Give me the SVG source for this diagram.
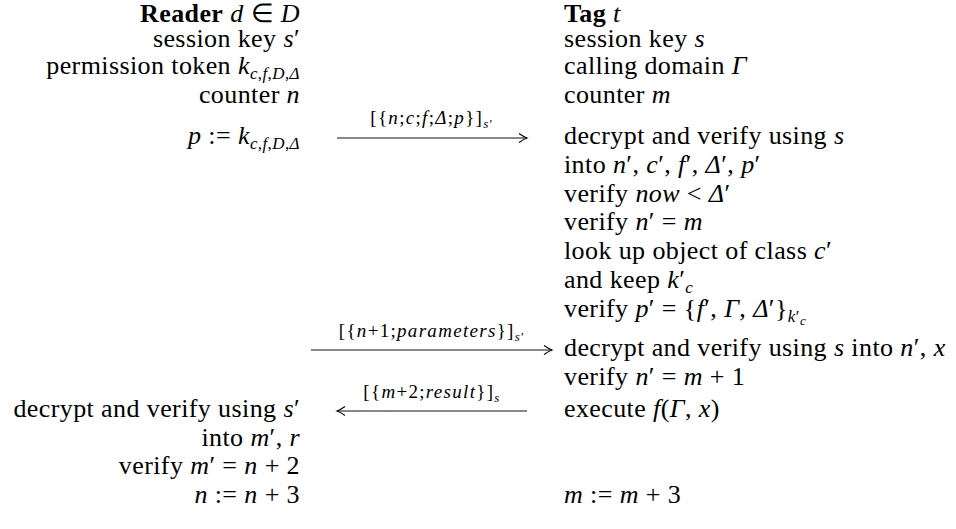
<svg xmlns="http://www.w3.org/2000/svg" width="956" height="529" viewBox="0 0 956 529">
<style>
.t { font-family: "Liberation Serif", "Times New Roman", serif; font-size: 26px; fill: #000; letter-spacing: 0.4px; }
.r { text-anchor: end; }
.i { font-style: italic; }
.b { font-weight: bold; }
.s { font-size: 17px; }
.ss { font-size: 13px; }
.lbl { font-family: "Liberation Serif", "Times New Roman", serif; font-size: 19px; fill: #000; text-anchor: middle; letter-spacing: 1.3px; }
.arr { stroke: #111; stroke-width: 1.1; fill: none; marker-end: url(#ah); }
</style>
<defs>
<marker id="ah" markerWidth="12" markerHeight="12" refX="0" refY="0" viewBox="-10 -6 12 12" orient="auto" markerUnits="userSpaceOnUse">
<path d="M-8,-4.5 Q-3,-1 0,0 Q-3,1 -8,4.5" fill="none" stroke="#000" stroke-width="1.1"/>
</marker>
</defs>
<rect width="956" height="529" fill="#fff"/>

<g id="reader">
<text class="t r" x="300" y="22"><tspan class="b">Reader</tspan> <tspan class="i">d</tspan> ∈ <tspan class="i">D</tspan></text>
<text class="t r" x="300" y="47">session key <tspan class="i">s</tspan>′</text>
<text class="t r" x="300" y="74">permission token <tspan class="i">k</tspan><tspan class="s" dy="5"><tspan class="i">c</tspan>,<tspan class="i">f</tspan>,<tspan class="i">D</tspan>,<tspan class="i">Δ</tspan></tspan></text>
<text class="t r" x="300" y="103">counter <tspan class="i">n</tspan></text>
<text class="t r" x="300" y="144"><tspan class="i">p</tspan> := <tspan class="i">k</tspan><tspan class="s" dy="5"><tspan class="i">c</tspan>,<tspan class="i">f</tspan>,<tspan class="i">D</tspan>,<tspan class="i">Δ</tspan></tspan></text>
<text class="t r" x="300" y="417">decrypt and verify using <tspan class="i">s</tspan>′</text>
<text class="t r" x="300" y="446">into <tspan class="i">m</tspan>′, <tspan class="i">r</tspan></text>
<text class="t r" x="300" y="474">verify <tspan class="i">m</tspan>′ = <tspan class="i">n</tspan> + 2</text>
<text class="t r" x="300" y="503"><tspan class="i">n</tspan> := <tspan class="i">n</tspan> + 3</text>
</g>

<g id="tag">
<text class="t" x="564" y="22"><tspan class="b">Tag</tspan> <tspan class="i">t</tspan></text>
<text class="t" x="564" y="47">session key <tspan class="i">s</tspan></text>
<text class="t" x="564" y="74">calling domain <tspan class="i">Γ</tspan></text>
<text class="t" x="564" y="103">counter <tspan class="i">m</tspan></text>
<text class="t" x="564" y="144">decrypt and verify using <tspan class="i">s</tspan></text>
<text class="t" x="564" y="173">into <tspan class="i">n</tspan>′, <tspan class="i">c</tspan>′, <tspan class="i">f</tspan>′, <tspan class="i">Δ</tspan>′, <tspan class="i">p</tspan>′</text>
<text class="t" x="564" y="202">verify <tspan class="i">now</tspan> &lt; <tspan class="i">Δ</tspan>′</text>
<text class="t" x="564" y="230">verify <tspan class="i">n</tspan>′ = <tspan class="i">m</tspan></text>
<text class="t" x="564" y="259">look up object of class <tspan class="i">c</tspan>′</text>
<text class="t" x="564" y="288">and keep <tspan class="i">k</tspan>′<tspan class="s i" dy="5">c</tspan></text>
<text class="t" x="564" y="317">verify <tspan class="i">p</tspan>′ = {<tspan class="i">f</tspan>′, <tspan class="i">Γ</tspan>, <tspan class="i">Δ</tspan>′}<tspan class="s i" dy="5">k</tspan><tspan class="s">′</tspan><tspan class="ss i" dy="3">c</tspan></text>
<text class="t" x="564" y="356">decrypt and verify using <tspan class="i">s</tspan> into <tspan class="i">n</tspan>′, <tspan class="i">x</tspan></text>
<text class="t" x="564" y="385">verify <tspan class="i">n</tspan>′ = <tspan class="i">m</tspan> + 1</text>
<text class="t" x="564" y="417">execute <tspan class="i">f</tspan>(<tspan class="i">Γ</tspan>, <tspan class="i">x</tspan>)</text>
<text class="t" x="564" y="503"><tspan class="i">m</tspan> := <tspan class="i">m</tspan> + 3</text>
</g>

<g id="connectors">
<line class="arr" x1="337" y1="138" x2="527" y2="138"/>
<text class="lbl" x="432" y="124">[{<tspan class="i">n</tspan>;<tspan class="i">c</tspan>;<tspan class="i">f</tspan>;<tspan class="i">Δ</tspan>;<tspan class="i">p</tspan>}]<tspan class="ss i" dy="4">s</tspan><tspan class="ss">′</tspan></text>
<line class="arr" x1="311" y1="350" x2="552" y2="350"/>
<text class="lbl" x="432" y="337">[{<tspan class="i">n</tspan>+1;<tspan class="i">parameters</tspan>}]<tspan class="ss i" dy="4">s</tspan><tspan class="ss">′</tspan></text>
<line class="arr" x1="527" y1="411" x2="337" y2="411"/>
<text class="lbl" x="432" y="398">[{<tspan class="i">m</tspan>+2;<tspan class="i">result</tspan>}]<tspan class="ss i" dy="4">s</tspan></text>
</g>
</svg>
